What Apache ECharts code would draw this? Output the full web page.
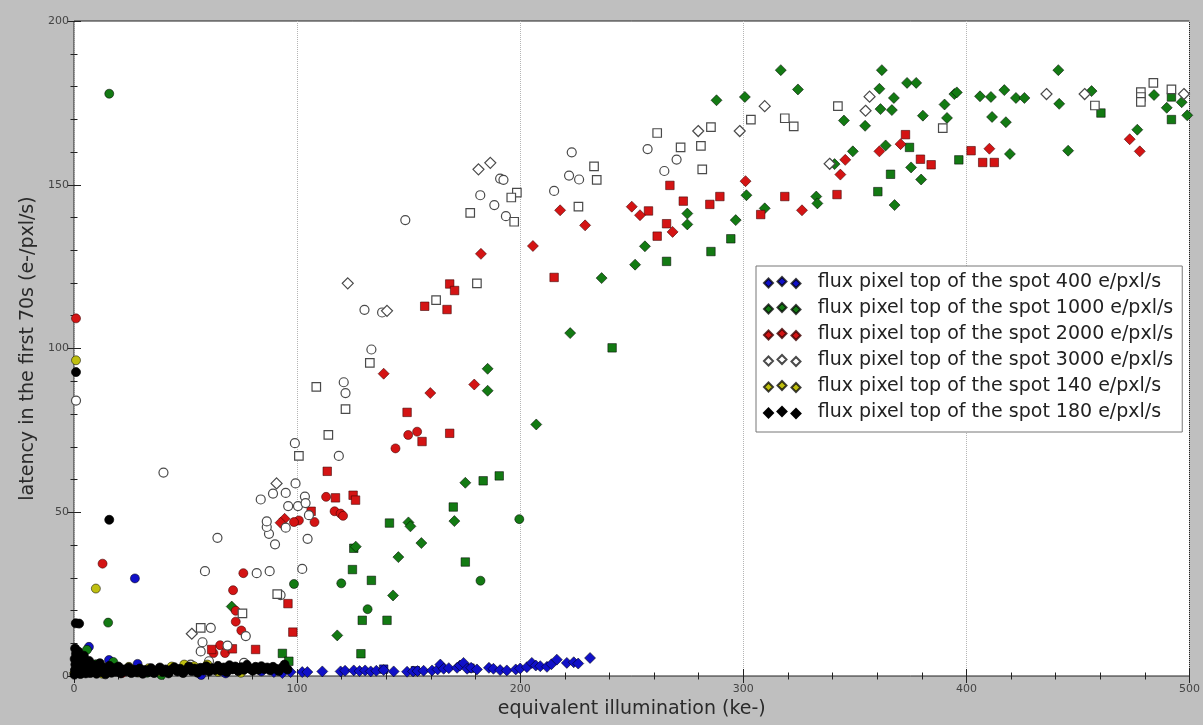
<!DOCTYPE html>
<html>
<head>
<meta charset="utf-8">
<script src="https://cdn.jsdelivr.net/npm/echarts@6/dist/echarts.min.js"></script>
<style>
  html, body { margin: 0; padding: 0; background: #bfbfbf; }
  #chart { width: 1203px; height: 725px; }
</style>
</head>
<body>
<div id="chart"></div>
<script>
// ---- series labels (legend order) ----
const seriesNames = [
  'flux pixel top of the spot 400 e/pxl/s',
  'flux pixel top of the spot 1000 e/pxl/s',
  'flux pixel top of the spot 2000 e/pxl/s',
  'flux pixel top of the spot 3000 e/pxl/s',
  'flux pixel top of the spot 140 e/pxl/s',
  'flux pixel top of the spot 180 e/pxl/s'
];

// axis ranges and tick steps
const xRange = [0, 500];
const yRange = [0, 200];
const xStep = 100;
const yStep = 50;

// ---- 400 e/pxl/s ----
const blueCircle = [[27.3,29.8],[6.7,8.9],[15.7,4.9],[28.5,3.7],[57.0,0.3],[2.2,3.6],[11.5,1.2],[21.0,2.0],[38.0,1.0],[46.5,1.6],[68.0,0.8],[84.0,1.4]];
const blueSquare = [[138.8,2.1],[153.0,1.6],[177.5,2.4]];
const blueDiamond = [[89.6,1.2],[93.4,0.9],[97.1,1.2],[102.3,1.2],[104.6,1.2],[111.3,1.4],[119.5,1.4],[121.5,1.6],[125.4,1.7],[128.0,1.5],[130.5,1.7],[133.0,1.4],[135.5,1.6],[138.8,1.8],[143.3,1.4],[149.3,1.3],[152.0,1.4],[154.0,1.5],[156.7,1.6],[160.5,1.7],[163.0,2.0],[164.2,3.5],[165.7,2.2],[168.0,2.4],[171.7,2.5],[173.0,3.2],[174.6,4.0],[176.2,2.2],[178.0,2.5],[180.6,2.0],[186.0,2.5],[188.0,2.2],[191.0,1.8],[194.0,1.7],[198.0,2.0],[200.0,2.3],[203.0,2.7],[205.2,4.0],[207.0,3.2],[209.0,3.0],[212.0,2.8],[214.0,3.6],[216.4,5.0],[220.9,4.0],[224.0,4.2],[226.0,3.8],[231.3,5.5]];

// ---- 1000 e/pxl/s ----
const greenCircle = [[15.8,177.8],[15.3,16.3],[98.6,28.1],[119.8,28.3],[131.6,20.4],[9.8,3.6],[5.8,8.0],[17.6,4.3],[32.8,1.0],[39.2,0.3],[182.2,29.1],[199.6,47.9],[2.5,2.8],[24.5,1.8]];
const greenSquare = [[93.4,6.9],[96.3,4.5],[124.8,32.5],[133.3,29.2],[129.2,17.0],[140.3,17.0],[128.6,6.8],[125.4,39.0],[141.4,46.7],[175.4,34.8],[170.0,51.6],[183.4,59.6],[190.6,61.1],[241.2,100.2],[265.6,126.6],[285.5,129.6],[294.4,133.5],[366.0,153.2],[360.3,147.9],[374.5,161.4],[396.6,157.6],[460.3,171.9],[491.9,176.8],[491.9,169.9]];
const greenDiamond = [[70.7,21.2],[118.0,12.4],[143.0,24.6],[145.4,36.3],[126.3,39.5],[149.9,46.9],[150.8,45.7],[155.7,40.6],[170.5,47.3],[175.4,59.0],[185.4,93.8],[185.4,87.1],[207.2,76.8],[222.4,104.7],[236.5,121.5],[251.5,125.6],[255.9,131.2],[274.9,141.2],[274.9,137.9],[288.0,175.8],[296.6,139.2],[300.7,176.8],[301.4,146.8],[309.6,142.8],[316.8,185.0],[324.5,179.1],[332.7,146.4],[333.2,144.3],[340.9,156.3],[345.1,169.6],[349.1,160.2],[354.6,168.0],[361.0,179.3],[362.1,185.0],[361.5,173.1],[363.8,162.0],[366.6,172.8],[367.5,176.5],[367.8,143.8],[373.4,181.1],[375.2,155.3],[377.5,181.1],[379.7,151.6],[380.5,171.1],[390.2,174.5],[391.3,170.4],[394.6,177.7],[395.7,178.2],[406.1,177.0],[411.0,176.8],[411.5,170.7],[417.0,178.9],[417.7,169.1],[419.5,159.4],[422.2,176.5],[426.0,176.5],[441.2,185.0],[441.6,174.7],[445.6,160.4],[456.1,178.6],[476.6,166.8],[484.1,177.4],[489.8,173.5],[496.5,175.2],[499.0,171.2]];

// ---- 2000 e/pxl/s ----
const redCircle = [[0.9,109.2],[12.8,34.3],[75.9,31.4],[71.3,26.2],[72.5,19.9],[72.5,16.6],[75.0,13.9],[62.5,7.0],[65.5,9.4],[67.7,7.0],[113.0,54.7],[116.8,50.3],[119.5,49.6],[120.6,48.9],[100.8,47.5],[98.6,47.0],[107.8,47.0],[149.8,73.6],[153.8,74.6],[144.1,69.5],[4.5,1.8],[21.5,0.9]];
const redSquare = [[113.5,62.5],[117.2,54.4],[125.1,55.2],[126.2,53.7],[106.3,50.3],[95.9,22.1],[98.1,13.4],[81.4,8.1],[71.0,8.3],[61.7,8.1],[149.3,80.5],[168.4,74.1],[156.0,71.6],[157.2,112.9],[167.2,111.9],[168.4,119.7],[170.6,117.7],[215.2,121.7],[257.5,142.0],[261.4,134.3],[265.6,138.1],[267.1,149.8],[273.1,145.0],[285.0,144.0],[289.5,146.4],[307.8,140.9],[318.6,146.4],[342.0,147.0],[372.7,165.3],[379.4,157.8],[384.2,156.1],[402.1,160.4],[407.3,156.8],[412.5,156.8]];
const redDiamond = [[94.4,48.0],[92.6,46.8],[138.8,92.3],[159.7,86.4],[179.4,89.0],[182.4,128.9],[205.7,131.3],[217.9,142.2],[229.1,137.6],[250.0,143.3],[253.7,140.7],[268.3,135.6],[301.0,151.1],[326.3,142.2],[343.5,153.1],[345.7,157.6],[361.0,160.2],[370.5,162.4],[410.3,161.0],[473.2,163.9],[477.7,160.2]];

// ---- 3000 e/pxl/s (open markers) ----
const whiteCircle = [[0.9,84.1],[40.1,62.1],[64.3,42.2],[58.7,32.0],[81.9,31.4],[87.7,32.0],[102.3,32.7],[104.7,41.9],[90.1,40.2],[87.4,43.4],[86.4,45.5],[86.4,47.2],[83.7,53.9],[89.2,55.7],[94.9,55.9],[99.3,58.8],[99.0,71.1],[103.5,54.8],[100.4,51.9],[96.0,51.9],[103.8,52.8],[94.9,45.3],[105.3,49.1],[120.9,89.7],[121.7,86.4],[118.7,67.2],[130.2,111.8],[138.1,111.0],[133.3,99.7],[148.5,139.2],[188.4,143.8],[193.6,140.4],[182.1,146.8],[191.0,151.9],[192.5,151.5],[223.1,159.9],[221.9,152.8],[226.4,151.6],[215.2,148.1],[257.1,160.9],[270.1,157.7],[264.6,154.2],[61.3,14.7],[57.6,10.3],[56.8,7.5],[77.0,12.2],[60.5,4.5],[52.3,3.5],[68.8,9.3],[76.2,4.0],[92.6,24.7]];
const whiteSquare = [[108.6,88.3],[121.7,81.5],[114.0,73.6],[100.8,67.2],[91.1,25.0],[132.6,95.6],[162.3,114.8],[180.6,119.9],[177.6,141.4],[197.3,138.7],[198.5,147.6],[196.0,146.1],[233.1,155.6],[234.3,151.5],[226.1,143.3],[261.4,165.8],[271.9,161.4],[281.0,161.9],[281.6,154.7],[285.5,167.6],[303.4,169.9],[318.6,170.3],[322.6,167.8],[342.4,174.0],[389.4,167.3],[457.6,174.2],[478.2,178.3],[478.2,176.8],[478.2,175.3],[483.8,181.1],[491.9,179.1],[56.8,14.7],[75.5,19.1]];
const whiteDiamond = [[90.8,58.8],[122.7,119.9],[140.3,111.5],[181.3,154.7],[186.6,156.7],[279.8,166.4],[298.4,166.4],[309.6,174.0],[354.8,172.6],[356.6,176.9],[338.7,156.4],[435.9,177.7],[453.0,177.7],[497.5,177.7],[52.8,12.9]];

// ---- 140 e/pxl/s ----
const yellowCircle = [[0.9,96.4],[9.8,26.7],[0.5,0.8],[2.7,1.5],[5.4,2.6],[9.1,3.0],[12.8,0.7],[16.2,2.0],[21.0,1.5],[24.6,2.8],[28.9,1.1],[33.5,2.4],[38.4,1.4],[43.8,2.9],[49.4,3.5],[53.8,3.0],[59.8,3.5],[64.5,1.3],[69.2,2.7],[74.8,1.0],[79.5,2.2]];
const yellowDiamond = [[0.4,1.0]];

// ---- 180 e/pxl/s ----
const blackCircle = [[0.9,92.8],[15.8,47.7],[0.8,16.1],[2.3,16.0],
  [0.2,0.4],[0.4,1.8],[0.6,3.5],[0.3,5.2],[0.9,6.8],[0.5,8.4],[1.1,2.6],[1.4,4.4],[1.8,1.0],[1.9,7.5],[2.3,3.1],[2.6,5.6],[2.9,0.6],[3.3,2.2],[3.6,4.1],[4.1,1.4],[4.4,6.2],[4.8,2.9],[5.3,0.8],[5.7,3.8],[6.2,1.9],[6.8,4.6],[7.3,0.9],[7.9,2.7],[8.6,1.5],[9.2,3.3],[10.1,0.7],[10.8,2.1],[11.6,3.9],[12.4,1.2],[13.3,2.6],[14.1,0.5],[15.0,1.9],[15.9,3.1],[16.8,1.0],[17.7,2.4],[18.8,1.3],[19.9,2.9],[21.0,0.8],[22.1,2.0],[23.3,1.4],[24.5,2.6],[25.7,0.9],[26.9,1.9],[28.2,1.1],[29.5,2.3],[30.8,0.7],[32.0,1.8],[33.3,1.2],[34.6,2.4],[35.9,0.9],[37.2,1.7],[38.5,2.6],[39.8,1.2],[41.1,2.0],[42.4,0.8],[43.7,1.9],[45.0,2.7],[46.3,1.4],[47.6,2.2],[48.9,0.9],[50.2,1.8],[51.5,2.9],[52.8,1.5],[54.1,2.3],[55.4,1.0],[56.7,2.5],[58.0,1.7],[59.3,3.0],[60.6,1.4],[61.9,2.4],[63.2,1.8],[64.5,3.1],[65.8,1.6],[67.1,2.6],[68.4,1.2],[69.7,3.3],[71.0,2.0],[72.3,2.9],[73.6,1.5],[74.9,2.7],[76.2,1.9],[77.5,3.4],[78.8,2.2],[80.1,1.6],[81.4,2.8],[82.7,1.9],[84.0,3.0],[85.3,2.1],[86.6,2.6],[87.9,1.7],[89.2,2.8],[90.5,2.2],[91.8,1.5],[93.1,2.5],[94.4,3.5],[95.7,2.0]];

// ---- styling ----
const FONT = 'DejaVu Sans';
const groups = [
  { fill: '#1010c8', edge: 'rgba(0,0,0,0.75)', sets: { circle: blueCircle, rect: blueSquare, diamond: blueDiamond } },
  { fill: '#137a13', edge: 'rgba(0,0,0,0.75)', sets: { circle: greenCircle, rect: greenSquare, diamond: greenDiamond } },
  { fill: '#d41414', edge: 'rgba(60,0,0,0.8)', sets: { circle: redCircle, rect: redSquare, diamond: redDiamond } },
  { fill: '#ffffff', edge: '#4a4a4a', sets: { circle: whiteCircle, rect: whiteSquare, diamond: whiteDiamond } },
  { fill: '#bfbf10', edge: 'rgba(0,0,0,0.75)', sets: { circle: yellowCircle, diamond: yellowDiamond } },
  { fill: '#000000', edge: '#000000', sets: { circle: blackCircle } }
];
const symbolSizes = { circle: 9, rect: 8.5, diamond: 11 };

const series = [];
groups.forEach((g, i) => {
  ['circle', 'rect', 'diamond'].forEach(shape => {
    const data = g.sets[shape];
    if (!data) return;
    series.push({
      type: 'scatter',
      name: seriesNames[i],
      symbol: shape,
      symbolSize: symbolSizes[shape],
      data: data,
      itemStyle: {
        color: g.fill,
        borderColor: g.edge,
        borderWidth: g.fill === '#ffffff' ? 1.2 : 0.7,
        opacity: 1
      },
      emphasis: { disabled: true }
    });
  });
});

// three small diamonds as the legend key
const keyIcon = 'path://M0,6L4.5,1.5L9,6L4.5,10.5Z M13.5,4.5L18,0L22.5,4.5L18,9Z M27.5,6.5L32,2L36.5,6.5L32,11Z';

const tickStyle = { color: '#222', width: 1 };
const labelStyle = { fontFamily: FONT, fontSize: 11, color: '#444' };

function xAxisDef(pos) {
  const bottom = pos === 'bottom';
  return {
    type: 'value', position: pos, min: xRange[0], max: xRange[1], interval: xStep,
    axisLine: { show: false },
    axisTick: { show: true, inside: true, length: 7, lineStyle: tickStyle },
    minorTick: { show: true, splitNumber: 5, length: 3.5, lineStyle: tickStyle },
    splitLine: { show: bottom, lineStyle: { color: '#b5b5b5', type: 'dotted', width: 1 } },
    axisLabel: { show: bottom, margin: 8, ...labelStyle },
    name: bottom ? 'equivalent illumination (ke-)' : '',
    nameLocation: 'middle', nameGap: 22,
    nameTextStyle: { fontFamily: FONT, fontSize: 19, color: '#2a2a2a' }
  };
}
function yAxisDef(pos) {
  const left = pos === 'left';
  return {
    type: 'value', position: pos, min: yRange[0], max: yRange[1], interval: yStep,
    axisLine: { show: false },
    axisTick: { show: true, inside: true, length: 7, lineStyle: tickStyle },
    minorTick: { show: true, splitNumber: 5, length: 3.5, lineStyle: tickStyle },
    splitLine: { show: false },
    axisLabel: { show: left, margin: 5, ...labelStyle },
    name: left ? 'latency in the first 70s (e-/pxl/s)' : '',
    nameLocation: 'middle', nameGap: 25,
    nameTextStyle: { fontFamily: FONT, fontSize: 19, color: '#2a2a2a' }
  };
}

const option = {
  animation: false,
  backgroundColor: '#bfbfbf',
  grid: { left: 74, right: 12, top: 21, bottom: 49, show: true, backgroundColor: '#ffffff', borderColor: '#222', borderWidth: 1 },
  xAxis: [xAxisDef('bottom'), xAxisDef('top')],
  yAxis: [yAxisDef('left'), yAxisDef('right')],
  legend: {
    orient: 'vertical', left: 756, top: 266,
    padding: [7, 9, 10, 7], itemGap: 7, itemWidth: 37, itemHeight: 11,
    backgroundColor: '#ffffff', borderColor: '#777', borderWidth: 1,
    selectedMode: false,
    textStyle: { fontFamily: FONT, fontSize: 19, lineHeight: 19, color: '#222', padding: [0, 0, 0, 12] },
    data: seriesNames.map(n => ({ name: n, icon: keyIcon }))
  },
  series: series
};

const chart = echarts.init(document.getElementById('chart'), null, { renderer: 'canvas' });
chart.setOption(option);
</script>
</body>
</html>
